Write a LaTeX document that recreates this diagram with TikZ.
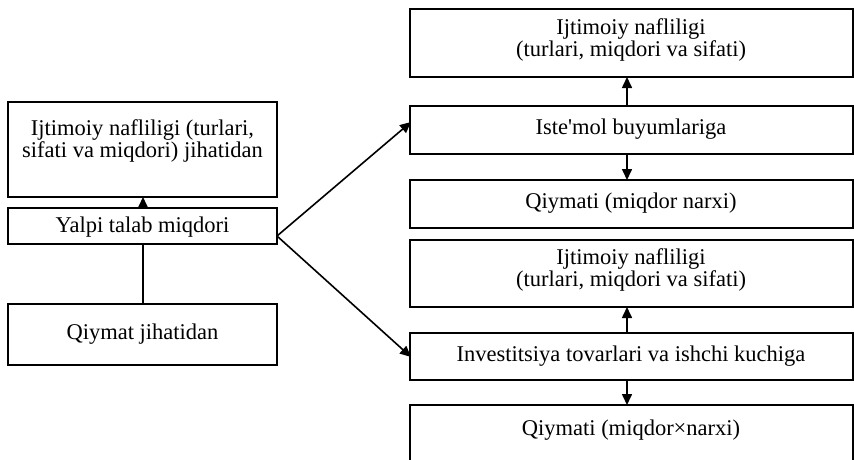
\documentclass[tikz,border=0pt]{standalone}
\usepackage{fontspec}
\setmainfont{Liberation Serif}
\usetikzlibrary{arrows.meta}
\begin{document}
\begin{tikzpicture}[x=1pt,y=-1pt,
  box/.style={draw,line width=1.5pt},
  lbl/.style={font=\fontsize{22.5}{22.5}\selectfont,align=center,inner sep=0pt},
  arr/.style={line width=1.6pt,-{Triangle[length=11pt,width=10pt]}},
  link/.style={line width=1.6pt}]
\useasboundingbox (0,0) rectangle (854,459);
% left column
\draw[box] (8,102) rectangle (277,197);
\draw[box] (8,208) rectangle (277,244);
\draw[box] (8,304) rectangle (277,365);
\node[lbl] (ln1) at (142.5,141) {Ijtimoiy nafliligi (turlari,\\sifati va miqdori) jihatidan};
\node[lbl] (ln2) at (142.5,227) {Yalpi talab miqdori};
\node[lbl] (ln3) at (142.5,334) {Qiymat jihatidan};
\coordinate (l1b) at (143,197);
\coordinate (l2t) at (143,208);
\coordinate (l2b) at (143,244);
\coordinate (l3t) at (143,304);
\coordinate (l2r) at (277,236);
% right column
\draw[box] (410,9) rectangle (853,77);
\draw[box] (410,106) rectangle (853,154);
\draw[box] (410,180) rectangle (853,228);
\draw[box] (410,240) rectangle (853,307);
\draw[box] (410,333) rectangle (853,380);
\draw[box] (410,405) rectangle (853,470);
\node[lbl] (r1) at (631,40) {Ijtimoiy nafliligi\\(turlari, miqdori va sifati)};
\node[lbl] (r2) at (631,129) {Iste\textquotesingle mol buyumlariga};
\node[lbl] (r3) at (631,203) {Qiymati (miqdor narxi)};
\node[lbl] (r4) at (631,270) {Ijtimoiy nafliligi\\(turlari, miqdori va sifati)};
\node[lbl] (r5) at (631,356) {Investitsiya tovarlari va ishchi kuchiga};
\node[lbl] (r6) at (631,430) {Qiymati (miqdor\texttimes narxi)};
\coordinate (r1b) at (627,77);
\coordinate (r2t) at (627,106);
\coordinate (r2b) at (627,154);
\coordinate (r3t) at (627,180);
\coordinate (r4b) at (627,307);
\coordinate (r5t) at (627,333);
\coordinate (r5b) at (627,380);
\coordinate (r6t) at (627,405);
\coordinate (r2l) at (411,122);
\coordinate (r5l) at (411,357);
% connectors
\draw[arr] (l2t) -- (l1b);
\draw[link] (l3t) -- (l2b);
\draw[arr] (l2r) -- (r2l);
\draw[arr] (l2r) -- (r5l);
\draw[arr] (r2t) -- (r1b);
\draw[arr] (r2b) -- (r3t);
\draw[arr] (r5t) -- (r4b);
\draw[arr] (r5b) -- (r6t);
\end{tikzpicture}
\end{document}
